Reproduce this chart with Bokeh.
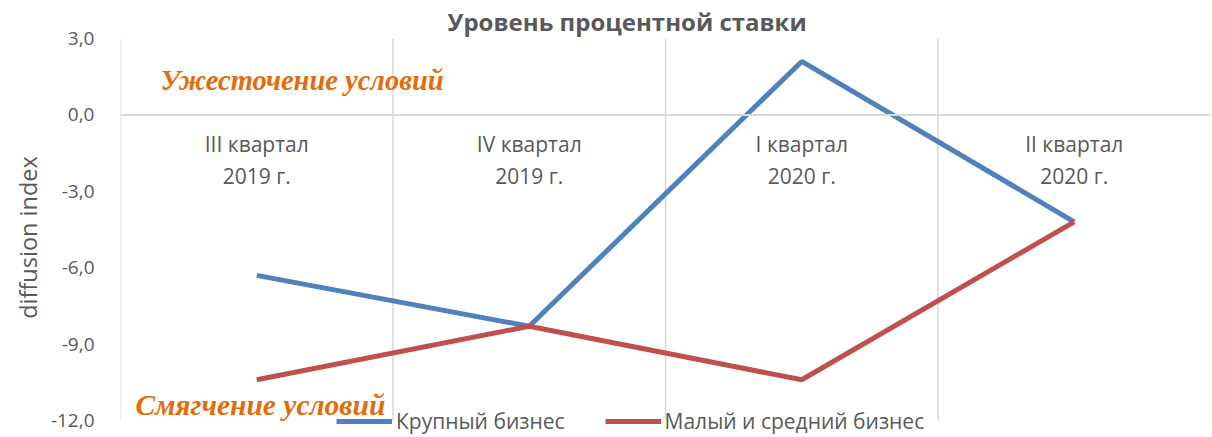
import numpy as np
from bokeh.plotting import figure
from bokeh.models import (Range1d, FixedTicker, CustomJSTickFormatter, Span, Legend,
                          LegendItem, Label)
from bokeh.core.properties import value
from bokeh.embed import file_html
from bokeh.resources import INLINE

title_text = "Уровень процентной ставки"
categories = ["III квартал\n2019 г.", "IV квартал\n2019 г.", "I квартал\n2020 г.", "II квартал\n2020 г."]
large = [-6.3, -8.3, 2.1, -4.2]
small_medium = [-10.4, -8.3, -10.4, -4.2]
series_names = ["Крупный бизнес", "Малый и средний бизнес"]
y_ticks = [3, 0, -3, -6, -9, -12]
y_label = "diffusion index"
note_up = "Ужесточение условий"
note_down = "Смягчение условий"

GRAY = "#595959"
GRID = "#d9d9d9"
FONT = "Open Sans"

n = len(categories)
xs = np.arange(n) + 0.5
y_lo, y_hi = min(y_ticks), max(y_ticks)

H, TOP = 436, 38
plot_px = 382                      # pixel height of the -12..3 span
extra = (H - TOP - plot_px) / plot_px * (y_hi - y_lo)   # room for the legend below -12

p = figure(width=1210, height=H, output_backend="svg", toolbar_location=None,
           x_range=Range1d(0, n), y_range=Range1d(y_lo - extra, y_hi),
           x_axis_location=None, min_border_left=120, min_border_right=0,
           min_border_top=TOP, min_border_bottom=0)
p.outline_line_color = None
p.background_fill_color = "white"

# title
p.title.text = title_text
p.title.align = "left"
p.title.offset = 327
p.title.text_font = FONT
p.title.text_font_size = "24px"
p.title.text_font_style = "bold"
p.title.text_color = GRAY
p.title.standoff = 2

# grids: category boundaries, from -12 to 3 only
p.ygrid.visible = False
p.xgrid.visible = False
gx = list(range(n + 1))
p.segment(x0=gx, y0=[y_lo] * len(gx), x1=gx, y1=[y_hi] * len(gx),
          line_color=GRID, line_width=1.5)
p.add_layout(Span(location=0, dimension="width", line_color=GRID, line_width=2))

# y axis
ax = p.yaxis[0]
ax.ticker = FixedTicker(ticks=y_ticks)
ax.formatter = CustomJSTickFormatter(code="return tick.toFixed(1).replace('.', ',');")
ax.axis_line_color = None
ax.major_tick_line_color = None
ax.minor_tick_line_color = None
ax.major_label_text_font = FONT
ax.major_label_text_font_size = "19px"
ax.major_label_text_color = GRAY
ax.major_label_standoff = 20
ax.axis_label = y_label
ax.axis_label_text_font = FONT
ax.axis_label_text_font_size = "23.5px"
ax.axis_label_text_font_style = "normal"
ax.axis_label_text_color = GRAY
ax.axis_label_standoff = 4

# category labels next to the 0 line
line1 = [c.split("\n")[0] for c in categories]
line2 = [c.split("\n")[1] for c in categories]
zero = [0] * n
p.text(x=xs, y=zero, text=line1, text_align="center", text_baseline="middle",
       y_offset=29, text_font=value(FONT), text_font_size="21px", text_color=GRAY)
p.text(x=xs, y=zero, text=line2, text_align="center", text_baseline="middle",
       y_offset=61, text_font=value(FONT), text_font_size="21px", text_color=GRAY)

# series
r1 = p.line(xs, large, line_color="#4F81BD", line_width=5)
r2 = p.line(xs, small_medium, line_color="#C0504D", line_width=5)

# notes
p.add_layout(Label(x=0.147, y=1.35, text=note_up, text_font="Liberation Serif",
                   text_font_style="bold italic", text_font_size="28.5px",
                   text_color="#E46C0A", text_baseline="middle"))
p.add_layout(Label(x=0.055, y=-11.41, text=note_down, text_font="Liberation Serif",
                   text_font_style="bold italic", text_font_size="29.5px",
                   text_color="#E46C0A", text_baseline="middle"))

legend = Legend(items=[LegendItem(label=series_names[0], renderers=[r1]),
                       LegendItem(label=series_names[1], renderers=[r2])],
                orientation="horizontal", location=(216, 1),
                glyph_width=56, glyph_height=20, label_height=20, label_standoff=4,
                spacing=40, padding=0, margin=0, border_line_color=None,
                background_fill_alpha=0,
                label_text_font=FONT, label_text_font_size="21px", label_text_color=GRAY)
p.add_layout(legend, "center")

open("out.html", "w").write(file_html(p, INLINE))
